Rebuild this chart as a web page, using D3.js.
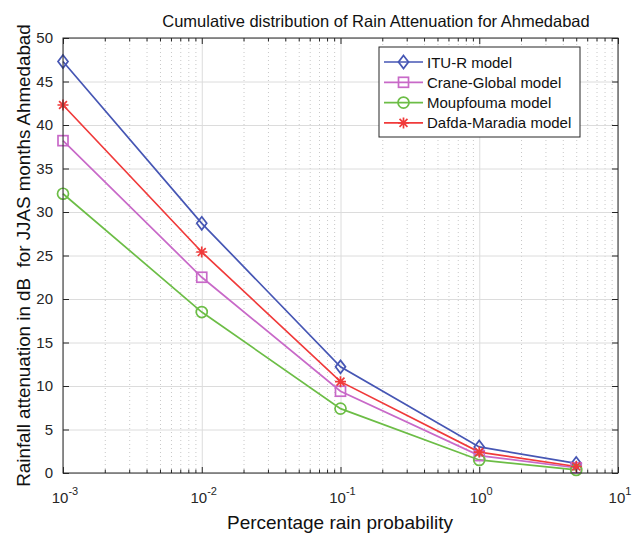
<!DOCTYPE html>
<html><head><meta charset="utf-8">
<script src="https://cdnjs.cloudflare.com/ajax/libs/d3/7.8.5/d3.min.js"></script>
<style>
html,body{margin:0;padding:0;background:#fff;}
svg{display:block;font-family:"Liberation Sans",Arial,sans-serif;}
</style></head>
<body><svg id="c" width="632" height="533"></svg>
<script>
const probabilities = [0.001, 0.01, 0.1, 1, 5];
const ituR = [47.3, 28.7, 12.2, 3.0, 1.1];
const craneGlobal = [38.2, 22.5, 9.4, 2.0, 0.6];
const moupfouma = [32.1, 18.5, 7.4, 1.5, 0.35];
const dafdaMaradia = [42.3, 25.4, 10.5, 2.4, 0.75];
const seriesNames = ["ITU-R model", "Crane-Global model", "Moupfouma model", "Dafda-Maradia model"];
const xTickExponents = [-3, -2, -1, 0, 1];
const yTicks = [0, 5, 10, 15, 20, 25, 30, 35, 40, 45, 50];
const titleText = "Cumulative distribution of Rain Attenuation for Ahmedabad";
const xLabel = "Percentage rain probability";
const yLabel = "Rainfall attenuation in dB  for JJAS months Ahmedabad";

const series = [
  {name: seriesNames[0], values: ituR, color: "#4656b4", marker: "diamond"},
  {name: seriesNames[1], values: craneGlobal, color: "#c869c8", marker: "square"},
  {name: seriesNames[2], values: moupfouma, color: "#6cbd46", marker: "circle"},
  {name: seriesNames[3], values: dafdaMaradia, color: "#f03a3a", marker: "star"}
];

const L = 63, R = 618, T = 38, B = 473;
const svg = d3.select("#c");
const x = d3.scaleLog().domain([1e-3, 10]).range([L, R]);
const y = d3.scaleLinear().domain([0, 50]).range([B, T]);

const majorX = xTickExponents.map(e => Math.pow(10, e));
const minorX = [];
for (let e = -3; e < 1; e++) for (let k = 2; k <= 9; k++) minorX.push(k * Math.pow(10, e));

// grid
const grid = svg.append("g");
grid.append("g").attr("transform", `translate(0,${B})`)
  .call(d3.axisBottom(x).tickValues(minorX).tickSize(-(B - T)).tickFormat(""))
  .call(g => g.select(".domain").remove())
  .call(g => g.selectAll("line").attr("stroke", "#c8c8c8").attr("stroke-dasharray", "1,3").attr("stroke-width", 1));
grid.append("g").attr("transform", `translate(0,${B})`)
  .call(d3.axisBottom(x).tickValues(majorX).tickSize(-(B - T)).tickFormat(""))
  .call(g => g.select(".domain").remove())
  .call(g => g.selectAll("line").attr("stroke", "#dcdcdc"));
grid.append("g").attr("transform", `translate(${L},0)`)
  .call(d3.axisLeft(y).tickValues(yTicks).tickSize(-(R - L)).tickFormat(""))
  .call(g => g.select(".domain").remove())
  .call(g => g.selectAll("line").attr("stroke", "#dcdcdc"));

// lines
const line = d3.line().x((d, i) => x(probabilities[i])).y(d => y(d));
const plot = svg.append("g");
series.forEach(s => {
  plot.append("path").datum(s.values).attr("d", line)
    .attr("fill", "none").attr("stroke", s.color).attr("stroke-width", 1.7);
});

function drawMarker(g, type, cx, cy, color) {
  if (type === "diamond") {
    g.append("path").attr("d", `M${cx},${cy-6.5}L${cx+5},${cy}L${cx},${cy+6.5}L${cx-5},${cy}Z`)
      .attr("fill", "none").attr("stroke", color).attr("stroke-width", 1.7);
  } else if (type === "square") {
    g.append("rect").attr("x", cx - 5).attr("y", cy - 5).attr("width", 10).attr("height", 10)
      .attr("fill", "none").attr("stroke", color).attr("stroke-width", 1.7);
  } else if (type === "circle") {
    g.append("circle").attr("cx", cx).attr("cy", cy).attr("r", 5.5)
      .attr("fill", "none").attr("stroke", color).attr("stroke-width", 1.7);
  } else if (type === "star") {
    const r = 5.5, d = r * 0.72;
    g.append("path").attr("d",
      `M${cx-r},${cy}L${cx+r},${cy}M${cx},${cy-r}L${cx},${cy+r}M${cx-d},${cy-d}L${cx+d},${cy+d}M${cx-d},${cy+d}L${cx+d},${cy-d}`)
      .attr("fill", "none").attr("stroke", color).attr("stroke-width", 1.7);
  }
}
series.forEach(s => {
  s.values.forEach((v, i) => drawMarker(plot, s.marker, x(probabilities[i]), y(v), s.color));
});

// axes box and ticks
const axisColor = "#262626";
const ax = svg.append("g");
function styleAxis(g) {
  g.select(".domain").remove();
  g.selectAll("line").attr("stroke", axisColor);
}
ax.append("g").attr("transform", `translate(0,${B})`)
  .call(d3.axisBottom(x).tickValues(majorX).tickSize(-6).tickFormat("")).call(styleAxis);
ax.append("g").attr("transform", `translate(0,${B})`)
  .call(d3.axisBottom(x).tickValues(minorX).tickSize(-3.5).tickFormat("")).call(styleAxis);
ax.append("g").attr("transform", `translate(0,${T})`)
  .call(d3.axisTop(x).tickValues(majorX).tickSize(-6).tickFormat("")).call(styleAxis);
ax.append("g").attr("transform", `translate(0,${T})`)
  .call(d3.axisTop(x).tickValues(minorX).tickSize(-3.5).tickFormat("")).call(styleAxis);
ax.append("g").attr("transform", `translate(${L},0)`)
  .call(d3.axisLeft(y).tickValues(yTicks).tickSize(-6).tickPadding(10).tickFormat(d3.format("d")))
  .call(styleAxis)
  .call(g => g.selectAll("text").attr("fill", axisColor).attr("font-size", 15)
    .attr("font-family", "Liberation Sans, Arial, sans-serif"));
ax.append("g").attr("transform", `translate(${R},0)`)
  .call(d3.axisRight(y).tickValues(yTicks).tickSize(-6).tickFormat("")).call(styleAxis);
ax.append("rect").attr("x", L).attr("y", T).attr("width", R - L).attr("height", B - T)
  .attr("fill", "none").attr("stroke", axisColor).attr("stroke-width", 1);

// x tick labels with superscripts
const xl = ax.append("g");
xTickExponents.forEach(e => {
  const t = xl.append("text").attr("x", x(Math.pow(10, e)) + 2).attr("y", 503)
    .attr("text-anchor", "middle").attr("fill", axisColor).attr("font-size", 15);
  t.append("tspan").text("10");
  t.append("tspan").attr("font-size", 11).attr("dy", -8).text(String(e));
});

// titles
svg.append("text").attr("x", 376).attr("y", 27).attr("text-anchor", "middle")
  .attr("font-size", 16.5).attr("fill", "#111").text(titleText);
svg.append("text").attr("x", 340).attr("y", 529).attr("text-anchor", "middle")
  .attr("font-size", 19).attr("fill", "#111").text(xLabel);
svg.append("text").attr("transform", `translate(30,${(T + B) / 2}) rotate(-90)`)
  .attr("text-anchor", "middle").attr("font-size", 18.8).attr("fill", "#111")
  .attr("xml:space", "preserve").style("white-space", "pre").text(yLabel);

// legend
const lg = svg.append("g");
lg.append("rect").attr("x", 379).attr("y", 47).attr("width", 201).attr("height", 90)
  .attr("fill", "#fff").attr("stroke", axisColor).attr("stroke-width", 1);
series.forEach((s, i) => {
  const cy = 62 + i * 20.3;
  lg.append("line").attr("x1", 384).attr("x2", 423).attr("y1", cy).attr("y2", cy)
    .attr("stroke", s.color).attr("stroke-width", 1.7);
  drawMarker(lg, s.marker, 403.5, cy, s.color);
  lg.append("text").attr("x", 427).attr("y", cy + 5.5).attr("font-size", 15)
    .attr("fill", "#111").text(s.name);
});
</script></body></html>
